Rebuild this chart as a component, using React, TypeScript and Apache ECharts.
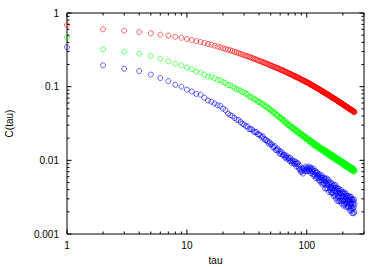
import React, { useEffect, useRef } from "react";
import * as echarts from "echarts";

// tau = 1 .. 250 (one point per integer lag)
const tau: number[] = Array.from({ length: 250 }, (_, i) => i + 1);

const red: number[] = [
  0.687, 0.601, 0.575, 0.552, 0.531, 0.508, 0.492, 0.476, 0.462, 0.444,
  0.430, 0.416, 0.404, 0.392, 0.380, 0.370, 0.360, 0.351, 0.342, 0.333,
  0.325, 0.318, 0.311, 0.304, 0.297, 0.291, 0.285, 0.279, 0.273, 0.268,
  0.263, 0.259, 0.254, 0.250, 0.245, 0.241, 0.237, 0.233, 0.229, 0.225,
  0.221, 0.218, 0.215, 0.212, 0.209, 0.206, 0.203, 0.200, 0.197, 0.194,
  0.192, 0.189, 0.187, 0.185, 0.182, 0.180, 0.178, 0.176, 0.174, 0.171,
  0.169, 0.168, 0.166, 0.164, 0.162, 0.160, 0.158, 0.157, 0.155, 0.153,
  0.151, 0.150, 0.148, 0.147, 0.145, 0.144, 0.142, 0.141, 0.139, 0.138,
  0.137, 0.135, 0.134, 0.133, 0.132, 0.130, 0.129, 0.128, 0.127, 0.125,
  0.124, 0.123, 0.122, 0.121, 0.120, 0.119, 0.118, 0.117, 0.116, 0.115,
  0.114, 0.113, 0.112, 0.111, 0.110, 0.109, 0.108, 0.107, 0.106, 0.105,
  0.104, 0.104, 0.103, 0.102, 0.101, 0.100, 0.0993, 0.0985, 0.0976, 0.0968,
  0.0961, 0.0954, 0.0946, 0.0939, 0.0932, 0.0925, 0.0918, 0.0911, 0.0904, 0.0898,
  0.0891, 0.0884, 0.0878, 0.0871, 0.0865, 0.0858, 0.0852, 0.0845, 0.0839, 0.0833,
  0.0827, 0.0822, 0.0816, 0.0811, 0.0805, 0.0800, 0.0794, 0.0789, 0.0784, 0.0778,
  0.0773, 0.0768, 0.0763, 0.0757, 0.0752, 0.0747, 0.0742, 0.0737, 0.0732, 0.0727,
  0.0723, 0.0718, 0.0714, 0.0710, 0.0705, 0.0701, 0.0697, 0.0693, 0.0689, 0.0684,
  0.0680, 0.0676, 0.0672, 0.0668, 0.0664, 0.0660, 0.0656, 0.0652, 0.0648, 0.0644,
  0.0640, 0.0637, 0.0633, 0.0629, 0.0626, 0.0622, 0.0619, 0.0615, 0.0612, 0.0608,
  0.0605, 0.0601, 0.0598, 0.0595, 0.0591, 0.0588, 0.0585, 0.0581, 0.0578, 0.0575,
  0.0572, 0.0569, 0.0566, 0.0563, 0.0560, 0.0557, 0.0555, 0.0552, 0.0549, 0.0546,
  0.0543, 0.0540, 0.0538, 0.0535, 0.0532, 0.0529, 0.0527, 0.0524, 0.0521, 0.0519,
  0.0516, 0.0514, 0.0511, 0.0508, 0.0506, 0.0504, 0.0501, 0.0499, 0.0497, 0.0494,
  0.0492, 0.0490, 0.0488, 0.0485, 0.0483, 0.0481, 0.0479, 0.0477, 0.0474, 0.0472,
  0.0470, 0.0468, 0.0466, 0.0464, 0.0462, 0.0460, 0.0457, 0.0455, 0.0453, 0.0451,
];

const green: number[] = [
  0.468, 0.322, 0.299, 0.281, 0.261, 0.240, 0.221, 0.205, 0.195, 0.181,
  0.172, 0.159, 0.156, 0.146, 0.137, 0.136, 0.130, 0.124, 0.122, 0.115,
  0.113, 0.105, 0.104, 0.101, 0.0956, 0.0919, 0.0924, 0.0879, 0.0843, 0.0835,
  0.0800, 0.0793, 0.0735, 0.0733, 0.0716, 0.0678, 0.0666, 0.0665, 0.0624, 0.0621,
  0.0610, 0.0579, 0.0593, 0.0561, 0.0536, 0.0544, 0.0523, 0.0499, 0.0505, 0.0473,
  0.0476, 0.0443, 0.0449, 0.0444, 0.0421, 0.0405, 0.0417, 0.0396, 0.0379, 0.0382,
  0.0368, 0.0375, 0.0341, 0.0351, 0.0348, 0.0326, 0.0323, 0.0330, 0.0304, 0.0308,
  0.0303, 0.0288, 0.0300, 0.0284, 0.0275, 0.0283, 0.0275, 0.0257, 0.0271, 0.0257,
  0.0258, 0.0245, 0.0247, 0.0254, 0.0232, 0.0234, 0.0241, 0.0232, 0.0218, 0.0229,
  0.0217, 0.0225, 0.0212, 0.0214, 0.0214, 0.0200, 0.0203, 0.0209, 0.0194, 0.0199,
  0.0198, 0.0186, 0.0199, 0.0186, 0.0178, 0.0189, 0.0183, 0.0176, 0.0185, 0.0172,
  0.0179, 0.0163, 0.0172, 0.0174, 0.0164, 0.0158, 0.0171, 0.0161, 0.0154, 0.0161,
  0.0156, 0.0162, 0.0147, 0.0155, 0.0156, 0.0147, 0.0148, 0.0154, 0.0141, 0.0146,
  0.0145, 0.0138, 0.0147, 0.0139, 0.0136, 0.0142, 0.0139, 0.0130, 0.0141, 0.0133,
  0.0135, 0.0128, 0.0131, 0.0137, 0.0124, 0.0126, 0.0132, 0.0128, 0.0119, 0.0128,
  0.0121, 0.0128, 0.0119, 0.0122, 0.0123, 0.0114, 0.0117, 0.0123, 0.0113, 0.0118,
  0.0117, 0.0111, 0.0119, 0.0112, 0.0107, 0.0115, 0.0112, 0.0108, 0.0114, 0.0107,
  0.0112, 0.0102, 0.0108, 0.0110, 0.0104, 0.0101, 0.0109, 0.0104, 0.00998, 0.0104,
  0.0101, 0.0106, 0.00961, 0.0102, 0.0102, 0.00964, 0.00973, 0.0102, 0.00938, 0.00972,
  0.00966, 0.00923, 0.00988, 0.00936, 0.00917, 0.00962, 0.00943, 0.00882, 0.00960, 0.00909,
  0.00927, 0.00878, 0.00900, 0.00941, 0.00855, 0.00874, 0.00913, 0.00887, 0.00829, 0.00895,
  0.00848, 0.00894, 0.00835, 0.00856, 0.00869, 0.00805, 0.00831, 0.00873, 0.00802, 0.00839,
  0.00835, 0.00790, 0.00852, 0.00803, 0.00771, 0.00823, 0.00804, 0.00776, 0.00825, 0.00773,
  0.00810, 0.00743, 0.00787, 0.00802, 0.00760, 0.00737, 0.00803, 0.00761, 0.00735, 0.00770,
  0.00747, 0.00782, 0.00711, 0.00752, 0.00760, 0.00717, 0.00724, 0.00757, 0.00700, 0.00725,
];

const blue: number[] = [
  0.343, 0.195, 0.175, 0.163, 0.146, 0.131, 0.119, 0.106, 0.100, 0.0911,
  0.0860, 0.0796, 0.0781, 0.0707, 0.0649, 0.0625, 0.0590, 0.0559, 0.0550, 0.0503,
  0.0480, 0.0431, 0.0411, 0.0399, 0.0375, 0.0355, 0.0354, 0.0331, 0.0313, 0.0305,
  0.0291, 0.0289, 0.0265, 0.0267, 0.0262, 0.0245, 0.0242, 0.0242, 0.0225, 0.0225,
  0.0219, 0.0205, 0.0212, 0.0196, 0.0188, 0.0190, 0.0182, 0.0169, 0.0176, 0.0165,
  0.0165, 0.0151, 0.0152, 0.0157, 0.0138, 0.0138, 0.0144, 0.0136, 0.0123, 0.0133,
  0.0122, 0.0129, 0.0116, 0.0119, 0.0119, 0.0108, 0.0111, 0.0116, 0.0103, 0.0108,
  0.0107, 0.00980, 0.0108, 0.00981, 0.00918, 0.00998, 0.00959, 0.00907, 0.00980, 0.00890,
  0.00947, 0.00822, 0.00897, 0.00922, 0.00828, 0.00769, 0.00853, 0.00759, 0.00698, 0.00731,
  0.00703, 0.00780, 0.00660, 0.00755, 0.00784, 0.00713, 0.00741, 0.00823, 0.00711, 0.00775,
  0.00775, 0.00713, 0.00826, 0.00747, 0.00719, 0.00797, 0.00767, 0.00672, 0.00796, 0.00714,
  0.00746, 0.00653, 0.00695, 0.00769, 0.00614, 0.00647, 0.00719, 0.00672, 0.00570, 0.00687,
  0.00604, 0.00687, 0.00582, 0.00619, 0.00641, 0.00533, 0.00577, 0.00647, 0.00529, 0.00592,
  0.00590, 0.00500, 0.00628, 0.00532, 0.00469, 0.00576, 0.00538, 0.00486, 0.00581, 0.00483,
  0.00564, 0.00413, 0.00518, 0.00557, 0.00464, 0.00416, 0.00568, 0.00477, 0.00421, 0.00501,
  0.00454, 0.00540, 0.00372, 0.00477, 0.00500, 0.00398, 0.00420, 0.00503, 0.00370, 0.00435,
  0.00430, 0.00359, 0.00481, 0.00395, 0.00366, 0.00452, 0.00424, 0.00326, 0.00464, 0.00382,
  0.00421, 0.00333, 0.00380, 0.00460, 0.00308, 0.00347, 0.00425, 0.00381, 0.00282, 0.00406,
  0.00326, 0.00416, 0.00313, 0.00357, 0.00385, 0.00277, 0.00327, 0.00407, 0.00286, 0.00357,
  0.00355, 0.00280, 0.00393, 0.00312, 0.00260, 0.00357, 0.00327, 0.00283, 0.00372, 0.00286,
  0.00353, 0.00242, 0.00322, 0.00354, 0.00285, 0.00250, 0.00367, 0.00299, 0.00259, 0.00322,
  0.00288, 0.00350, 0.00233, 0.00308, 0.00325, 0.00255, 0.00272, 0.00332, 0.00238, 0.00285,
  0.00284, 0.00230, 0.00327, 0.00260, 0.00238, 0.00309, 0.00287, 0.00209, 0.00322, 0.00258,
  0.00288, 0.00223, 0.00260, 0.00321, 0.00208, 0.00238, 0.00298, 0.00266, 0.00192, 0.00287,
  0.00226, 0.00296, 0.00217, 0.00252, 0.00273, 0.00191, 0.00230, 0.00293, 0.00199, 0.00255,
];

// tick positions (gnuplot style: major + minor, mirrored on all four sides)
const xMajorTicks: number[] = [1, 10, 100];
const xMinorTicks: number[] = [2, 3, 4, 5, 6, 7, 8, 9, 20, 30, 40, 50, 60, 70, 80, 90, 200, 300];
const yMajorTicks: number[] = [0.001, 0.01, 0.1, 1];
const yMinorTicks: number[] = [
  0.002, 0.003, 0.004, 0.005, 0.006, 0.007, 0.008, 0.009,
  0.02, 0.03, 0.04, 0.05, 0.06, 0.07, 0.08, 0.09,
  0.2, 0.3, 0.4, 0.5, 0.6, 0.7, 0.8, 0.9,
];

const FONT = "'Liberation Sans', Arial, Helvetica, sans-serif";
const TICK_COLOR = "#000";

function tickSeries(vals: number[], dir: "x" | "y", len: number) {
  return {
    type: "custom",
    silent: true,
    clip: false,
    z: 5,
    data: vals.map((v) => (dir === "x" ? [v, 1] : [1, v])),
    renderItem: (params: any, api: any) => {
      const cs = params.coordSys;
      const st = { stroke: TICK_COLOR, lineWidth: 1 };
      if (dir === "x") {
        const x = api.coord([api.value(0), 1])[0];
        const yb = cs.y + cs.height;
        return {
          type: "group",
          children: [
            { type: "line", shape: { x1: x, y1: yb, x2: x, y2: yb - len }, style: st },
            { type: "line", shape: { x1: x, y1: cs.y, x2: x, y2: cs.y + len }, style: st },
          ],
        };
      }
      const y = api.coord([1, api.value(1)])[1];
      const xr = cs.x + cs.width;
      return {
        type: "group",
        children: [
          { type: "line", shape: { x1: cs.x, y1: y, x2: cs.x + len, y2: y }, style: st },
          { type: "line", shape: { x1: xr, y1: y, x2: xr - len, y2: y }, style: st },
        ],
      };
    },
  };
}

function scatter(name: string, values: number[], color: string) {
  return {
    name,
    type: "scatter",
    symbol: "circle",
    symbolSize: 5,
    z: 3,
    data: values.map((v, i) => [tau[i], v]),
    itemStyle: { color: "rgba(0,0,0,0)", borderColor: color, borderWidth: 0.75 },
  };
}

const fmt = (v: number) => String(parseFloat(Number(v).toPrecision(3)));

export default function App() {
  const ref = useRef<HTMLDivElement>(null);
  useEffect(() => {
    if (!ref.current) return;
    const chart = echarts.init(ref.current, undefined, { renderer: "svg" });
    chart.setOption({
      animation: false,
      backgroundColor: "#fff",
      textStyle: { fontFamily: FONT },
      grid: {
        left: 67,
        top: 13,
        width: 297,
        height: 221,
        show: true,
        borderColor: "#000",
        borderWidth: 1,
        backgroundColor: "transparent",
        containLabel: false,
        outerBoundsMode: "none",
      },
      xAxis: {
        type: "log",
        logBase: 10,
        min: 1,
        max: 300,
        name: "tau",
        nameLocation: "middle",
        nameGap: 21,
        nameTextStyle: { fontSize: 10, color: "#000", fontFamily: FONT },
        axisLine: { show: false },
        axisTick: { show: false },
        splitLine: { show: false },
        minorTick: { show: false },
        axisLabel: {
          fontSize: 10,
          color: "#000",
          fontFamily: FONT,
          margin: 6,
          showMaxLabel: false,
          formatter: fmt,
        },
      },
      yAxis: {
        type: "log",
        logBase: 10,
        min: 0.001,
        max: 1,
        name: "C(tau)",
        nameLocation: "middle",
        nameRotate: 90,
        nameGap: 53,
        nameTextStyle: { fontSize: 10, color: "#000", fontFamily: FONT },
        axisLine: { show: false },
        axisTick: { show: false },
        splitLine: { show: false },
        minorTick: { show: false },
        axisLabel: {
          fontSize: 10,
          color: "#000",
          fontFamily: FONT,
          margin: 8,
          formatter: fmt,
        },
      },
      series: [
        scatter("red", red, "#ff0000"),
        scatter("green", green, "#00ff00"),
        scatter("blue", blue, "#0000ff"),
        tickSeries(xMajorTicks, "x", 4.5),
        tickSeries(xMinorTicks, "x", 2.5),
        tickSeries(yMajorTicks, "y", 4.5),
        tickSeries(yMinorTicks, "y", 2.5),
      ],
    });
    return () => chart.dispose();
  }, []);
  return (
    <div
      ref={ref}
      style={{ position: "absolute", left: 0, top: 0, width: 382, height: 267 }}
    />
  );
}
